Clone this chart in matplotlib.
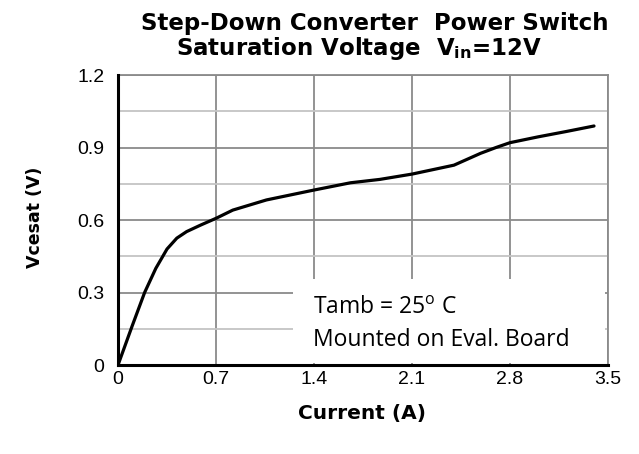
import matplotlib
matplotlib.use("Agg")
import matplotlib.pyplot as plt
from matplotlib.patches import Rectangle
from matplotlib.ticker import MultipleLocator

current_a = [0.0, 0.10, 0.19, 0.27, 0.35, 0.42, 0.49, 0.59, 0.70, 0.82, 1.06,
             1.40, 1.66, 1.87, 2.10, 2.40, 2.59, 2.70, 2.80, 3.00, 3.20, 3.40]
vcesat_v = [0.0, 0.16, 0.30, 0.40, 0.48, 0.525, 0.552, 0.579, 0.607, 0.641, 0.683,
            0.724, 0.754, 0.768, 0.790, 0.827, 0.876, 0.900, 0.920, 0.944, 0.966, 0.989]

x_ticks = [0, 0.7, 1.4, 2.1, 2.8, 3.5]
x_labels = ["0", "0.7", "1.4", "2.1", "2.8", "3.5"]
y_ticks = [0, 0.3, 0.6, 0.9, 1.2]
y_labels = ["0", "0.3", "0.6", "0.9", "1.2"]

title_1 = "Step-Down Converter  Power Switch"
title_2 = r"Saturation Voltage  V$_\mathregular{in}$=12V"
note = r"Tamb = 25$\mathregular{^o}$ C" + "\nMounted on Eval. Board"

plt.rcParams["font.family"] = ["Liberation Sans", "DejaVu Sans"]
wide_bold = dict(family=["DejaVu Sans"], fontweight="bold")

fig = plt.figure(figsize=(6.39, 4.54), dpi=100)
ax = fig.add_axes([0.1847, 0.196, 0.7668, 0.6388])

ax.plot(current_a, vcesat_v, color="black", linewidth=2.3, solid_capstyle="round",
        solid_joinstyle="round", zorder=5)

ax.set_xlim(0, 3.5)
ax.set_ylim(0, 1.2)
ax.set_xticks(x_ticks)
ax.set_xticklabels(x_labels)
ax.set_yticks(y_ticks)
ax.set_yticklabels(y_labels)
ax.yaxis.set_minor_locator(MultipleLocator(0.15))
ax.tick_params(axis="both", which="both", length=0, labelsize=14)
ax.tick_params(axis="x", pad=4.5)
ax.tick_params(axis="y", pad=10)

ax.grid(True, which="major", color="#8a8a8a", linewidth=1.3, zorder=0)
ax.grid(True, which="minor", axis="y", color="#c4c4c4", linewidth=1.3, zorder=0)
ax.set_axisbelow(True)

for s in ("top", "right"):
    ax.spines[s].set_color("#8a8a8a")
    ax.spines[s].set_linewidth(1.3)
for s in ("left", "bottom"):
    ax.spines[s].set_color("black")
    ax.spines[s].set_linewidth(2.2)
    ax.spines[s].set_zorder(6)

ax.set_xlabel("Current (A)", fontsize=14.5, **wide_bold)
ax.xaxis.set_label_coords(0.498, -0.133)
ax.set_ylabel("Vcesat (V)", fontsize=12.5, **wide_bold)
ax.yaxis.set_label_coords(-0.151, 0.51)

fig.text(0.587, 0.948, title_1, ha="center", va="center", fontsize=16.5, **wide_bold)
fig.text(0.562, 0.894, title_2, ha="center", va="center", fontsize=16.5, **wide_bold)

# white note box that hides the grid behind it
ax.add_patch(Rectangle((0.357, 0.008), 0.637, 0.29, transform=ax.transAxes,
                       facecolor="white", edgecolor="none", zorder=3))
ax.text(0.398, 0.238, note, transform=ax.transAxes, fontsize=16.5,
        family=["Open Sans", "DejaVu Sans"], va="top", ha="left",
        linespacing=1.45, zorder=4)

fig.savefig("out.png", dpi=100)
